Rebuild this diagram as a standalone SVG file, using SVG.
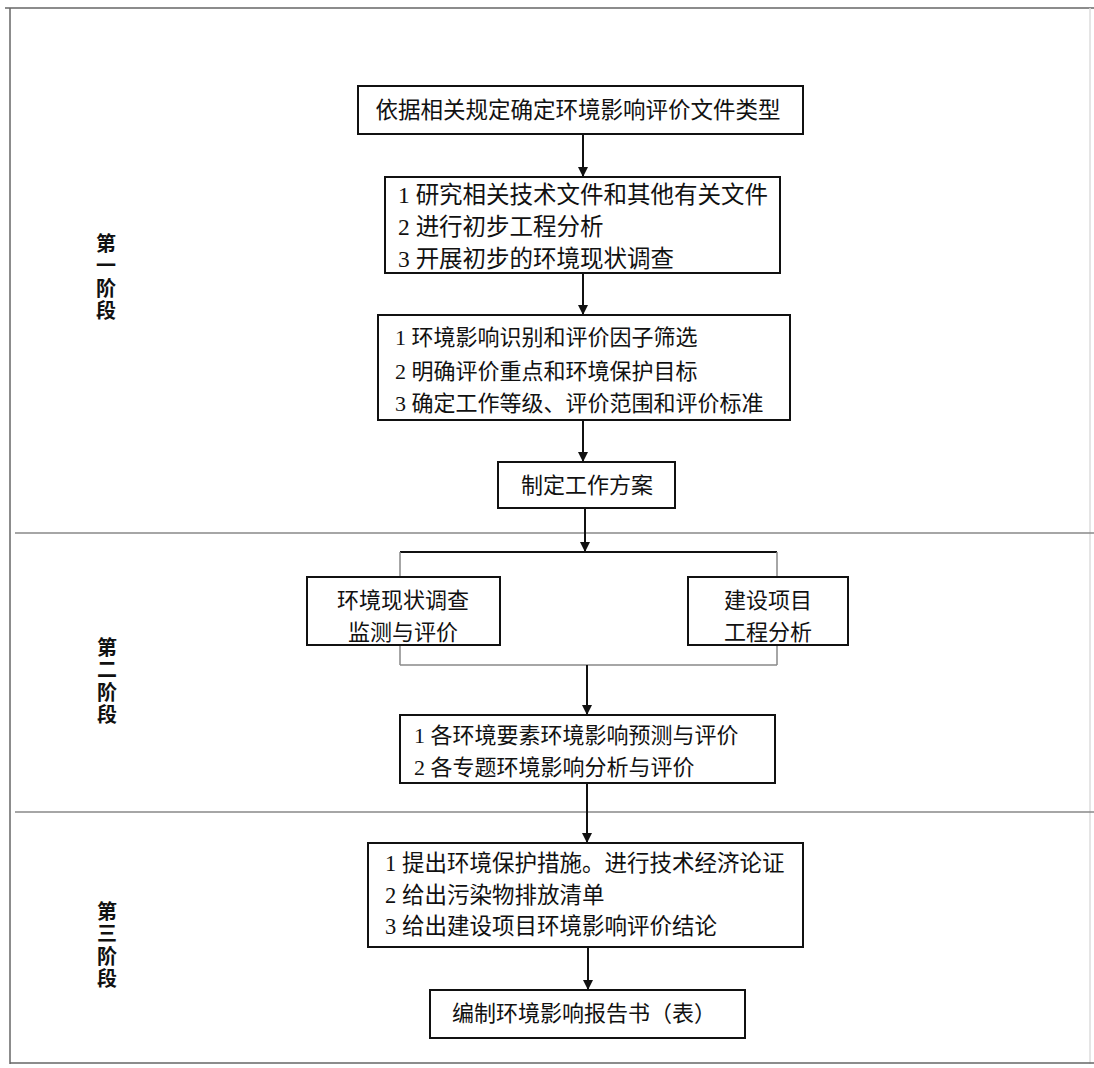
<svg xmlns="http://www.w3.org/2000/svg" width="1094" height="1068" viewBox="0 0 1094 1068">
<style>
.box{fill:#fff;stroke:#111;stroke-width:2}
.t{font-family:"Liberation Serif","Noto Sans CJK SC",sans-serif;font-size:22px;fill:#111;dominant-baseline:central}
.c{text-anchor:middle}
.stg{font-family:"Noto Sans CJK SC",sans-serif;font-size:20px;font-weight:bold;fill:#111;text-anchor:middle;writing-mode:vertical-rl;letter-spacing:2.5px}
.ln{stroke:#111;stroke-width:2;fill:none}
.gl{stroke:#888;stroke-width:1.5;fill:none}
.fr{stroke:#666;stroke-width:1.5;fill:none}
</style>
<defs>
<marker id="ah" viewBox="0 0 10 10" refX="10" refY="5" markerWidth="10" markerHeight="10" markerUnits="userSpaceOnUse" orient="auto">
<path d="M0,0 L10,5 L0,10 z" fill="#111"/>
</marker>
</defs>
<rect width="1094" height="1068" fill="#fff"/>
<g id="frame">
<line class="fr" x1="5" y1="8" x2="1094" y2="8"/>
<line class="fr" x1="10" y1="8" x2="10" y2="1064"/>
<line x1="1090" y1="8" x2="1090" y2="1064" stroke="#ddd" stroke-width="1.5"/>
<line class="fr" x1="10" y1="1063" x2="1094" y2="1063"/>
<line class="gl" x1="15" y1="533" x2="1094" y2="533"/>
<line class="gl" x1="15" y1="812" x2="1094" y2="812"/>
</g>
<g id="stage1"><text class="stg" x="106" y="278">第一阶段</text></g>
<g id="stage2"><text class="stg" x="107" y="682">第二阶段</text></g>
<g id="stage3"><text class="stg" x="107" y="946">第三阶段</text></g>
<g id="connectors">
<line class="ln" x1="583" y1="134" x2="583" y2="177" marker-end="url(#ah)"/>
<line class="ln" x1="583" y1="273" x2="583" y2="315" marker-end="url(#ah)"/>
<line class="ln" x1="583" y1="420" x2="583" y2="462" marker-end="url(#ah)"/>
<line class="ln" x1="585" y1="508" x2="585" y2="552" marker-end="url(#ah)"/>
<line class="ln" x1="400" y1="552" x2="777" y2="552"/>
<line class="gl" x1="400" y1="552" x2="400" y2="577"/>
<line class="gl" x1="777" y1="552" x2="777" y2="577"/>
<line class="gl" x1="400" y1="645" x2="400" y2="665"/>
<line class="gl" x1="777" y1="645" x2="777" y2="665"/>
<line class="gl" x1="400" y1="665" x2="777" y2="665"/>
<line class="ln" x1="587" y1="665" x2="587" y2="715" marker-end="url(#ah)"/>
<line class="ln" x1="587" y1="783" x2="587" y2="843" marker-end="url(#ah)"/>
<line class="ln" x1="588" y1="947" x2="588" y2="990" marker-end="url(#ah)"/>
</g>
<g id="n1"><rect class="box" x="358" y="86" width="445" height="48"/><text class="t c" x="578" y="110" style="font-size:22.5px">依据相关规定确定环境影响评价文件类型</text></g>
<g id="n2"><rect class="box" x="385" y="177" width="395" height="96"/>
<text class="t" x="398" y="195" style="font-size:23.5px">1 研究相关技术文件和其他有关文件</text>
<text class="t" x="398" y="227" style="font-size:23.5px">2 进行初步工程分析</text>
<text class="t" x="398" y="259" style="font-size:23.5px">3 开展初步的环境现状调查</text></g>
<g id="n3"><rect class="box" x="378" y="315" width="412" height="105"/>
<text class="t" x="395" y="337">1 环境影响识别和评价因子筛选</text>
<text class="t" x="395" y="371">2 明确评价重点和环境保护目标</text>
<text class="t" x="395" y="403">3 确定工作等级、评价范围和评价标准</text></g>
<g id="n4"><rect class="box" x="498" y="462" width="177" height="46"/><text class="t c" x="587" y="485">制定工作方案</text></g>
<g id="n5"><rect class="box" x="307" y="577" width="193" height="68"/>
<text class="t c" x="403" y="600">环境现状调查</text>
<text class="t c" x="403" y="632">监测与评价</text></g>
<g id="n6"><rect class="box" x="688" y="577" width="160" height="68"/>
<text class="t c" x="768" y="600">建设项目</text>
<text class="t c" x="768" y="632">工程分析</text></g>
<g id="n7"><rect class="box" x="400" y="715" width="375" height="68"/>
<text class="t" x="414" y="735">1 各环境要素环境影响预测与评价</text>
<text class="t" x="414" y="767">2 各专题环境影响分析与评价</text></g>
<g id="n8"><rect class="box" x="368" y="843" width="435" height="104"/>
<text class="t" x="385" y="863" style="font-size:22.5px">1 提出环境保护措施。进行技术经济论证</text>
<text class="t" x="385" y="895" style="font-size:22.5px">2 给出污染物排放清单</text>
<text class="t" x="385" y="926" style="font-size:22.5px">3 给出建设项目环境影响评价结论</text></g>
<g id="n9"><rect class="box" x="430" y="990" width="315" height="48"/><text class="t c" x="584" y="1013">编制环境影响报告书（表）</text></g>
</svg>
